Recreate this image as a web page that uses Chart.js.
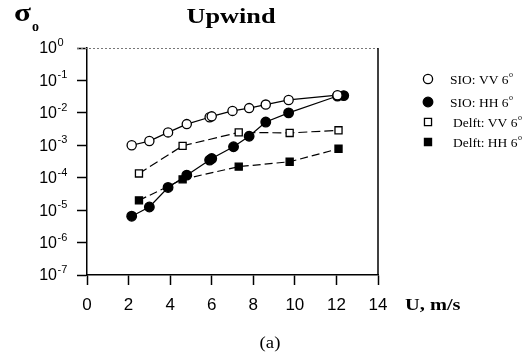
<!DOCTYPE html>
<html>
<head>
<meta charset="utf-8">
<script src="https://cdn.jsdelivr.net/npm/chart.js@4.4.1/dist/chart.umd.min.js"></script>
<style>
  html, body { margin: 0; padding: 0; background: #fff; }
  #wrap { width: 528px; height: 358px; }
</style>
</head>
<body>
<div id="wrap"><canvas id="chart" width="528" height="358"></canvas></div>
<script>
// data
const sioVVx = [2.15, 3.0, 3.9, 4.8, 5.9, 6.0, 7.0, 7.8, 8.6, 9.7, 12.05];
const sioVVy = [1.0e-3, 1.35e-3, 2.5e-3, 4.5e-3, 7.3e-3, 7.8e-3, 1.15e-2, 1.4e-2, 1.8e-2, 2.5e-2, 3.5e-2];

const sioHHx = [2.15, 3.0, 3.9, 4.8, 5.9, 6.0, 7.05, 7.8, 8.6, 9.7, 12.05, 12.35];
const sioHHy = [6.5e-6, 1.25e-5, 5.0e-5, 1.2e-4, 3.5e-4, 3.9e-4, 9.0e-4, 1.9e-3, 5.2e-3, 1.0e-2, 3.3e-2, 3.4e-2];

const delftVVx = [2.5, 4.6, 7.3, 9.75, 12.1];
const delftVVy = [1.35e-4, 9.6e-4, 2.5e-3, 2.4e-3, 2.9e-3];

const delftHHx = [2.5, 4.6, 7.3, 9.75, 12.1];
const delftHHy = [2.0e-5, 8.9e-5, 2.2e-4, 3.1e-4, 7.8e-4];

const xTicks = [0, 2, 4, 6, 8, 10, 12, 14];
const yTicks = [1, 1e-1, 1e-2, 1e-3, 1e-4, 1e-5, 1e-6, 1e-7];
const yExponents = ['0', '-1', '-2', '-3', '-4', '-5', '-6', '-7'];

const seriesLabels = ['SIO: VV 6', 'SIO: HH 6', 'Delft: VV 6', 'Delft: HH 6'];

function pts(xs, ys) {
  return xs.map((x, i) => ({ x: x, y: ys[i] }));
}

function series(label, xs, ys, style, filled, dash, radius) {
  return {
    label: label,
    data: pts(xs, ys),
    borderColor: '#000',
    borderWidth: 1.2,
    borderDash: dash,
    pointStyle: style,
    pointRadius: radius,
    pointBorderWidth: 1.3,
    pointBorderColor: '#000',
    pointBackgroundColor: filled ? '#000' : '#fff',
    fill: false,
    tension: 0
  };
}

// σo label, title, axis label, caption, y tick labels, frame and legend
const decorations = {
  id: 'decorations',
  afterDraw(chart) {
    const ctx = chart.ctx;
    const area = chart.chartArea;
    const yScale = chart.scales.y;
    ctx.save();

    // top dotted edge and right edge of the box
    ctx.strokeStyle = '#777';
    ctx.lineWidth = 1;
    ctx.setLineDash([2, 2]);
    ctx.beginPath();
    ctx.moveTo(area.left - 10, area.top + 0.5);
    ctx.lineTo(area.right, area.top + 0.5);
    ctx.stroke();
    ctx.setLineDash([]);
    ctx.strokeStyle = '#000';
    ctx.lineWidth = 1.5;
    ctx.beginPath();
    ctx.moveTo(area.right, area.top);
    ctx.lineTo(area.right, area.bottom);
    ctx.stroke();

    // y tick labels 10^n
    ctx.fillStyle = '#000';
    yTicks.forEach((v, i) => {
      const y = yScale.getPixelForValue(v);
      ctx.font = '16px "Liberation Sans", Arial, sans-serif';
      ctx.textAlign = 'right';
      ctx.textBaseline = 'middle';
      ctx.fillText('10', 57, y + 1);
      ctx.font = '11px "Liberation Sans", Arial, sans-serif';
      ctx.textAlign = 'left';
      ctx.fillText(yExponents[i], 57.5, y - 5);
    });

    // stretched serif texts
    function stretched(text, font, x, y, sx, align) {
      ctx.save();
      ctx.font = font;
      ctx.textAlign = align;
      ctx.textBaseline = 'middle';
      ctx.translate(x, y);
      ctx.scale(sx, 1);
      ctx.fillText(text, 0, 0);
      ctx.restore();
    }
    stretched('Upwind', 'bold 21px "Liberation Serif", "Times New Roman", serif', 231, 18, 1.25, 'center');
    stretched('σ', 'bold 25px "Liberation Serif", "Times New Roman", serif', 14, 15, 1.25, 'left');
    stretched('o', 'bold 14px "Liberation Serif", "Times New Roman", serif', 32, 27, 1.0, 'left');
    stretched('U, m/s', 'bold 17px "Liberation Serif", "Times New Roman", serif', 405, 306, 1.2, 'left');
    stretched('(a)', '17px "Liberation Serif", "Times New Roman", serif', 270, 344, 1.1, 'center');

    // legend
    const rows = [79, 102, 122, 142];
    const textX = [450, 450, 453, 453];
    chart.data.datasets.forEach((ds, i) => {
      ctx.strokeStyle = '#000';
      ctx.fillStyle = ds.pointBackgroundColor;
      ctx.lineWidth = ds.pointBorderWidth;
      Chart.helpers.drawPoint(ctx, {
        pointStyle: ds.pointStyle,
        radius: ds.pointRadius,
        borderWidth: ds.pointBorderWidth
      }, 428, rows[i]);
      ctx.fillStyle = '#000';
      ctx.font = '13.5px "Liberation Serif", "Times New Roman", serif';
      ctx.textAlign = 'left';
      ctx.textBaseline = 'middle';
      ctx.fillText(ds.label, textX[i], rows[i] + 1);
      const w = ctx.measureText(ds.label).width;
      ctx.font = '8px "Liberation Serif", "Times New Roman", serif';
      ctx.fillText('o', textX[i] + w + 0.5, rows[i] - 4);
    });

    ctx.restore();
  }
};

new Chart(document.getElementById('chart'), {
  type: 'line',
  data: {
    datasets: [
      series(seriesLabels[0], sioVVx, sioVVy, 'circle', false, [], 4.6),
      series(seriesLabels[1], sioHHx, sioHHy, 'circle', true, [], 4.8),
      series(seriesLabels[2], delftVVx, delftVVy, 'rect', false, [9, 4], 5),
      series(seriesLabels[3], delftHHx, delftHHy, 'rect', true, [8, 4], 5)
    ]
  },
  options: {
    responsive: false,
    animation: false,
    layout: { padding: { top: 48, right: 150, left: 0, bottom: 0 } },
    plugins: {
      legend: { display: false },
      tooltip: { enabled: false }
    },
    scales: {
      x: {
        type: 'linear',
        min: 0,
        max: 14,
        afterBuildTicks: scale => { scale.ticks = xTicks.map(v => ({ value: v })); },
        afterFit: scale => { scale.height = 83; },
        ticks: {
          color: '#000',
          padding: 10,
          font: { family: '"Liberation Sans", Arial, sans-serif', size: 17 }
        },
        grid: {
          drawOnChartArea: false,
          drawTicks: true,
          tickLength: 10,
          tickColor: '#000',
          tickWidth: 1.5
        },
        border: { color: '#000', width: 1.5 }
      },
      y: {
        type: 'logarithmic',
        min: 1e-7,
        max: 1,
        afterBuildTicks: scale => { scale.ticks = yTicks.map(v => ({ value: v })); },
        afterFit: scale => { scale.width = 87; },
        ticks: { display: false },
        grid: {
          drawOnChartArea: false,
          drawTicks: true,
          tickLength: 10,
          tickColor: '#000',
          tickWidth: 1.5
        },
        border: { color: '#000', width: 1.5 }
      }
    }
  },
  plugins: [decorations]
});
</script>
</body>
</html>
